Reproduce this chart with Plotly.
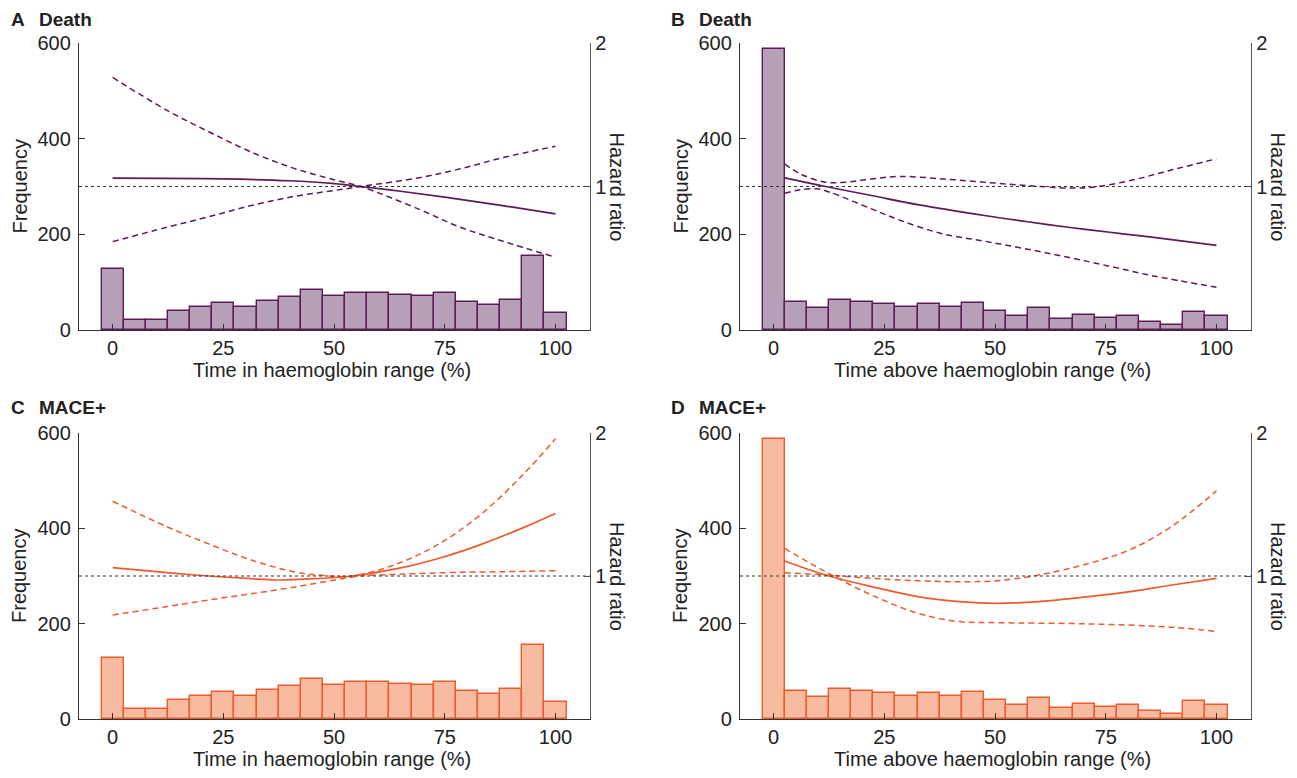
import plotly.graph_objects as go

# page geometry: browser body has an 8px margin
OFF = 8
W, H = 1297 - 2 * OFF, 778 - 2 * OFF

# ---------------- data ----------------
bin_centres = [0, 5, 10, 15, 20, 25, 30, 35, 40, 45, 50, 55, 60, 65, 70, 75, 80, 85, 90, 95, 100]
freq_in_range = [128, 20, 20, 39, 48, 56, 48, 61, 69, 84, 71, 78, 78, 74, 72, 78, 59, 52, 62, 155, 36]
freq_above_range = [588, 58, 47, 62, 58, 54, 48, 54, 49, 56, 40, 29, 45, 24, 32, 26, 29, 17, 10, 38, 29]

# Panel A: Death vs time in range
a_x_hr = [0, 25, 40, 50, 56, 65, 75, 87, 100]
a_hr = [1.058, 1.053, 1.04, 1.02, 1.0, 0.967, 0.926, 0.872, 0.809]
a_ci_x = [0, 12.3, 21.8, 31.3, 40.8, 50, 56, 69, 78.5, 88, 100]
a_ci_hi = [1.76, 1.53, 1.38, 1.24, 1.128, 1.047, 1.0, 0.844, 0.716, 0.62, 0.507]
a_ci_lo = [0.616, 0.716, 0.79, 0.867, 0.93, 0.972, 1.0, 1.06, 1.123, 1.2, 1.28]

# Panel B: Death vs time above range
b_x_hr = [2.5, 11.7, 22.1, 32.5, 47.6, 57, 66.5, 75.9, 85.4, 100]
b_hr = [1.06, 1.0, 0.937, 0.874, 0.798, 0.756, 0.716, 0.681, 0.647, 0.59]
b_ci1_x = [2.5, 6, 11.7, 16.4, 22.1, 28.7, 38.2, 47.6, 57, 66.5, 72, 80.6, 90, 100]
b_ci1 = [1.158, 1.088, 1.03, 1.03, 1.053, 1.07, 1.053, 1.03, 1.007, 0.99, 0.995, 1.042, 1.116, 1.193]
b_ci2_x = [2.5, 6, 9.8, 12.7, 22.1, 28.7, 38.2, 47.6, 57, 66.5, 75.9, 85.4, 100]
b_ci2 = [0.953, 0.977, 0.984, 0.96, 0.844, 0.763, 0.67, 0.619, 0.565, 0.507, 0.444, 0.379, 0.298]

# Panel C: MACE+ vs time in range
c_x_hr = [0, 12.3, 21.8, 31.3, 37, 45.5, 54, 64.5, 74.9, 83.4, 92.9, 100]
c_hr = [1.058, 1.023, 1.0, 0.981, 0.972, 0.981, 1.0, 1.053, 1.135, 1.223, 1.34, 1.437]
c_ci1_x = [0, 12.3, 21.8, 31.3, 40.8, 46.4, 54, 64.5, 73.9, 83.4, 92.9, 100]
c_ci1 = [1.523, 1.344, 1.223, 1.112, 1.03, 1.007, 1.0, 1.088, 1.228, 1.437, 1.716, 1.96]
c_ci2_x = [0, 12.3, 21.8, 31.3, 40.8, 50.2, 56, 64.5, 78.7, 88, 100]
c_ci2 = [0.728, 0.786, 0.833, 0.876, 0.921, 0.972, 1.0, 1.012, 1.026, 1.03, 1.037]

# Panel D: MACE+ vs time above range
d_x_hr = [2.5, 11.7, 22.1, 32.5, 41.9, 50.4, 59.9, 71.2, 80.6, 90, 100]
d_hr = [1.105, 1.007, 0.926, 0.856, 0.821, 0.809, 0.821, 0.856, 0.891, 0.937, 0.984]
d_ci1_x = [2.5, 11.7, 22.1, 32.5, 41.9, 50.4, 71.2, 90, 100]
d_ci1 = [1.193, 1.03, 0.867, 0.74, 0.681, 0.674, 0.665, 0.642, 0.612]
d_ci2_x = [2.5, 11.7, 22.1, 32.5, 41.9, 50.4, 59.9, 71.2, 80.6, 90, 100]
d_ci2 = [1.023, 1.007, 0.984, 0.967, 0.96, 0.967, 1.007, 1.088, 1.186, 1.349, 1.595]

x_ticks = [0, 25, 50, 75, 100]
freq_ticks = [0, 200, 400, 600]
hr_ticks = [1, 2]

PURPLE = "#5e1a55"
PURPLE_FILL = "#b6a0b7"
ORANGE = "#ee5a2c"
ORANGE_FILL = "#f7bc9f"
FONT = "Liberation Sans, Arial, sans-serif"
TXT = "#222222"
FS = 20

# ---------------- layout geometry (screen pixels) ----------------
def px_x(p):
    return (p - OFF) / W

def px_y(p):
    return 1 - (p - OFF) / H

panels = [
    dict(key="A", title="Death", xl=79, xr=590, yt=43, yb=330, tx=10, ty=8,
         xlabel="Time in haemoglobin range (%)", freq=freq_in_range, line=PURPLE, fill=PURPLE_FILL,
         hr=(a_x_hr, a_hr), ci=[(a_ci_x, a_ci_hi), (a_ci_x, a_ci_lo)]),
    dict(key="B", title="Death", xl=740, xr=1251, yt=43, yb=330, tx=670, ty=8,
         xlabel="Time above haemoglobin range (%)", freq=freq_above_range, line=PURPLE, fill=PURPLE_FILL,
         hr=(b_x_hr, b_hr), ci=[(b_ci1_x, b_ci1), (b_ci2_x, b_ci2)]),
    dict(key="C", title="MACE+", xl=79, xr=590, yt=433, yb=719, tx=10, ty=396,
         xlabel="Time in haemoglobin range (%)", freq=freq_in_range, line=ORANGE, fill=ORANGE_FILL,
         hr=(c_x_hr, c_hr), ci=[(c_ci1_x, c_ci1), (c_ci2_x, c_ci2)]),
    dict(key="D", title="MACE+", xl=740, xr=1251, yt=433, yb=719, tx=670, ty=396,
         xlabel="Time above haemoglobin range (%)", freq=freq_above_range, line=ORANGE, fill=ORANGE_FILL,
         hr=(d_x_hr, d_hr), ci=[(d_ci1_x, d_ci1), (d_ci2_x, d_ci2)]),
]

fig = go.Figure()
layout = dict(
    width=W, height=H, autosize=False,
    margin=dict(l=0, r=0, t=0, b=0, pad=0, autoexpand=False),
    paper_bgcolor="white", plot_bgcolor="rgba(0,0,0,0)",
    showlegend=False, bargap=0, font=dict(family=FONT, size=FS, color=TXT),
)
annotations = []
shapes = []

for i, p in enumerate(panels):
    xi = i + 1
    yl = 2 * i + 1
    yr = 2 * i + 2
    xname = "x" if xi == 1 else f"x{xi}"
    ylname = "y" if yl == 1 else f"y{yl}"
    yrname = f"y{yr}"
    xdom = [px_x(p["xl"]), px_x(p["xr"])]
    ydom = [px_y(p["yb"]), px_y(p["yt"])]

    layout["xaxis" if xi == 1 else f"xaxis{xi}"] = dict(
        domain=xdom, anchor=ylname, range=[-7.6, 107.8], tickvals=x_ticks,
        ticks="inside", ticklen=6, tickcolor="#333", tickwidth=1.2, automargin=False,
        showline=True, linecolor="#333", linewidth=1.3, showgrid=False, zeroline=False,
        tickfont=dict(size=FS, color=TXT),
    )
    layout["yaxis" if yl == 1 else f"yaxis{yl}"] = dict(
        domain=ydom, anchor=xname, range=[0, 600], tickvals=freq_ticks,
        ticks="inside", ticklen=6, tickcolor="#333", tickwidth=1.2, automargin=False,
        showline=True, linecolor="#333", linewidth=1.3, showgrid=False, zeroline=False,
        tickfont=dict(size=FS, color=TXT), ticklabelstandoff=3,
    )
    layout[f"yaxis{yr}"] = dict(
        domain=ydom, anchor=xname, overlaying=ylname, side="right", range=[0, 2],
        tickvals=hr_ticks, ticks="inside", ticklen=6, tickcolor="#555", tickwidth=1.2,
        automargin=False, showline=True, linecolor="#555", linewidth=1.3, showgrid=False,
        zeroline=False, tickfont=dict(size=FS, color=TXT),
    )

    fig.add_trace(go.Bar(
        x=bin_centres, y=p["freq"], width=5, xaxis=xname, yaxis=ylname,
        marker=dict(color=p["fill"], line=dict(color=p["line"], width=1.4)),
    ))
    for cx, cy in p["ci"]:
        fig.add_trace(go.Scatter(
            x=cx, y=cy, mode="lines", xaxis=xname, yaxis=yrname,
            line=dict(color=p["line"], width=1.5, dash="6px,4px", shape="spline", smoothing=1.0),
        ))
    hx, hy = p["hr"]
    fig.add_trace(go.Scatter(
        x=hx, y=hy, mode="lines", xaxis=xname, yaxis=yrname,
        line=dict(color=p["line"], width=1.7, shape="spline", smoothing=1.0),
    ))

    shapes.append(dict(
        type="line", xref=f"{xname} domain", yref=yrname, x0=0, x1=1, y0=1, y1=1,
        line=dict(color="#333", width=1.2, dash="dot"), layer="above",
    ))

    # panel letter and outcome title (top-anchored so they stay inside the page)
    annotations.append(dict(
        text=f"<b>{p['key']}</b>", x=px_x(p["tx"]), y=px_y(p["ty"]),
        xref="paper", yref="paper", xanchor="left", yanchor="top", showarrow=False,
        borderpad=0, font=dict(size=19, color=TXT, family=FONT),
    ))
    annotations.append(dict(
        text=f"<b>{p['title']}</b>", x=px_x(p["tx"] + 28), y=px_y(p["ty"]),
        xref="paper", yref="paper", xanchor="left", yanchor="top", showarrow=False,
        borderpad=0, font=dict(size=19, color=TXT, family=FONT),
    ))
    # axis titles
    annotations.append(dict(
        text=p["xlabel"], x=(xdom[0] + xdom[1]) / 2 - 3 / W, y=px_y(p["yb"] + 40),
        xref="paper", yref="paper", xanchor="center", yanchor="middle", showarrow=False,
        font=dict(size=FS, color=TXT, family=FONT),
    ))
    annotations.append(dict(
        text="Frequency", x=px_x(p["xl"] - 60), y=(ydom[0] + ydom[1]) / 2,
        xref="paper", yref="paper", xanchor="center", yanchor="middle", showarrow=False,
        textangle=-90, font=dict(size=FS, color=TXT, family=FONT),
    ))
    annotations.append(dict(
        text="Hazard ratio", x=px_x(p["xr"] + 27), y=(ydom[0] + ydom[1]) / 2,
        xref="paper", yref="paper", xanchor="center", yanchor="middle", showarrow=False,
        textangle=90, font=dict(size=FS, color=TXT, family=FONT),
    ))

layout["annotations"] = annotations
layout["shapes"] = shapes
fig.update_layout(**layout)
fig.write_html("out.html")
